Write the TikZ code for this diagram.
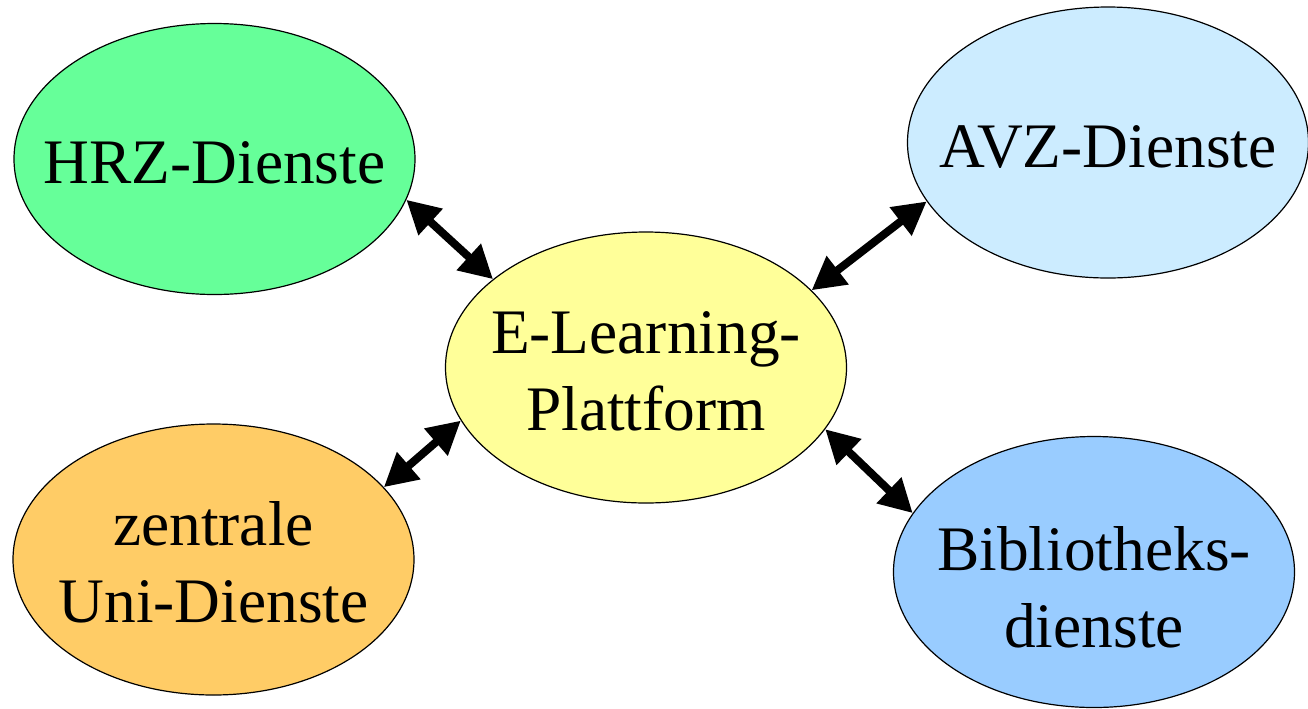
\documentclass[tikz,border=0pt]{standalone}
\usepackage{fontspec}
\setmainfont{Liberation Serif}
\usetikzlibrary{shapes.geometric,arrows.meta}
\definecolor{hrzc}{HTML}{66FF99}
\definecolor{avzc}{HTML}{CCECFF}
\definecolor{elc}{HTML}{FFFF99}
\definecolor{zenc}{HTML}{FFCC66}
\definecolor{bibc}{HTML}{99CCFF}
\newcommand\mylbl[2]{\makebox[0pt]{\raisebox{#1}[0pt][0pt]{\begin{tabular}[t]{@{}c@{}}#2\end{tabular}}}}
\tikzset{
  blob/.style={ellipse, draw=black, line width=0.6pt, inner sep=0pt,
    minimum width=200.5pt, minimum height=135.5pt,
    font=\fontsize{31.7}{38.5}\selectfont},
  link/.style={line width=4pt, {Triangle[length=16.5pt,width=17pt]}-{Triangle[length=16.5pt,width=17pt]}}
}
\begin{document}
\begin{tikzpicture}[x=0.5pt,y=-0.5pt]
\useasboundingbox (0,0) rectangle (1308,708);
\node[blob, fill=hrzc] (hrz) at (214.5,159) {\mylbl{-12pt}{HRZ-Dienste}};
\node[blob, fill=avzc] (avz) at (1108,142.5) {\mylbl{-12.25pt}{AVZ-Dienste}};
\node[blob, fill=elc] (el) at (646,367.5) {\mylbl{7.25pt}{E-Learning-\\Plattform}};
\node[blob, fill=zenc] (zen) at (213.5,559.5) {\mylbl{7.25pt}{zentrale\\Uni-Dienste}};
\node[blob, fill=bibc] (bib) at (1094,572) {\mylbl{1pt}{Bibliotheks-\\dienste}};
\draw[link] (hrz.-12.9) -- (el.150.3);
\draw[link] (avz.198.9) -- (el.25.6);
\draw[link] (zen.23.6) -- (el.196.8);
\draw[link] (el.-19) -- (bib.162.8);
\end{tikzpicture}
\end{document}
